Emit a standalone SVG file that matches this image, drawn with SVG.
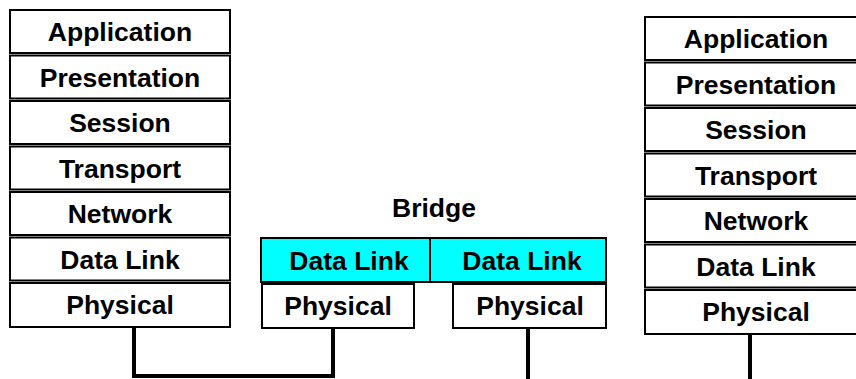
<svg xmlns="http://www.w3.org/2000/svg" width="856" height="379" viewBox="0 0 856 379">
<style>
.box{fill:#fff;stroke:#000;stroke-width:2}
.cyan{fill:#00ffff;stroke:#000;stroke-width:2}
text{font-family:"Liberation Sans",Arial,sans-serif;font-weight:bold;font-size:26.5px;text-anchor:middle;fill:#000}
.wire{fill:none;stroke:#000;stroke-width:4}
</style>
<rect width="856" height="379" fill="#fff"/>
<g id="left-stack">
<g id="l-app"><rect class="box" x="10" y="10" width="220" height="43"/><text x="120" y="41">Application</text></g>
<g id="l-pres"><rect class="box" x="10" y="55.5" width="220" height="43"/><text x="120" y="86.5">Presentation</text></g>
<g id="l-sess"><rect class="box" x="10" y="101" width="220" height="43"/><text x="120" y="132">Session</text></g>
<g id="l-trans"><rect class="box" x="10" y="146.5" width="220" height="43"/><text x="120" y="177.5">Transport</text></g>
<g id="l-net"><rect class="box" x="10" y="192" width="220" height="43"/><text x="120" y="223">Network</text></g>
<g id="l-dl"><rect class="box" x="10" y="237.5" width="220" height="43"/><text x="120" y="268.5">Data Link</text></g>
<g id="l-phy"><rect class="box" x="10" y="283" width="220" height="44"/><text x="120" y="314">Physical</text></g>
</g>
<g id="bridge">
<text x="434" y="217">Bridge</text>
<g id="b-dl1"><rect class="cyan" x="261" y="238" width="169" height="44"/><text x="349" y="270">Data Link</text></g>
<g id="b-dl2"><rect class="cyan" x="430" y="238" width="176" height="44"/><text x="522" y="270">Data Link</text></g>
<g id="b-phy1"><rect class="box" x="262" y="284" width="152" height="44"/><text x="338" y="315">Physical</text></g>
<g id="b-phy2"><rect class="box" x="453" y="284" width="153" height="44"/><text x="530" y="315">Physical</text></g>
</g>
<g id="right-stack">
<g id="r-app"><rect class="box" x="645" y="17" width="222" height="43"/><text x="756" y="48">Application</text></g>
<g id="r-pres"><rect class="box" x="645" y="62.5" width="222" height="43"/><text x="756" y="93.5">Presentation</text></g>
<g id="r-sess"><rect class="box" x="645" y="108" width="222" height="43"/><text x="756" y="139">Session</text></g>
<g id="r-trans"><rect class="box" x="645" y="153.5" width="222" height="43"/><text x="756" y="184.5">Transport</text></g>
<g id="r-net"><rect class="box" x="645" y="199" width="222" height="43"/><text x="756" y="230">Network</text></g>
<g id="r-dl"><rect class="box" x="645" y="244.5" width="222" height="43"/><text x="756" y="275.5">Data Link</text></g>
<g id="r-phy"><rect class="box" x="645" y="290" width="222" height="44"/><text x="756" y="321">Physical</text></g>
</g>
<g id="connectors">
<path class="wire" d="M134 328 V376 H333 V328"/>
<path class="wire" d="M528 328 V379"/>
<path class="wire" d="M750 335 V379"/>
</g>
</svg>
